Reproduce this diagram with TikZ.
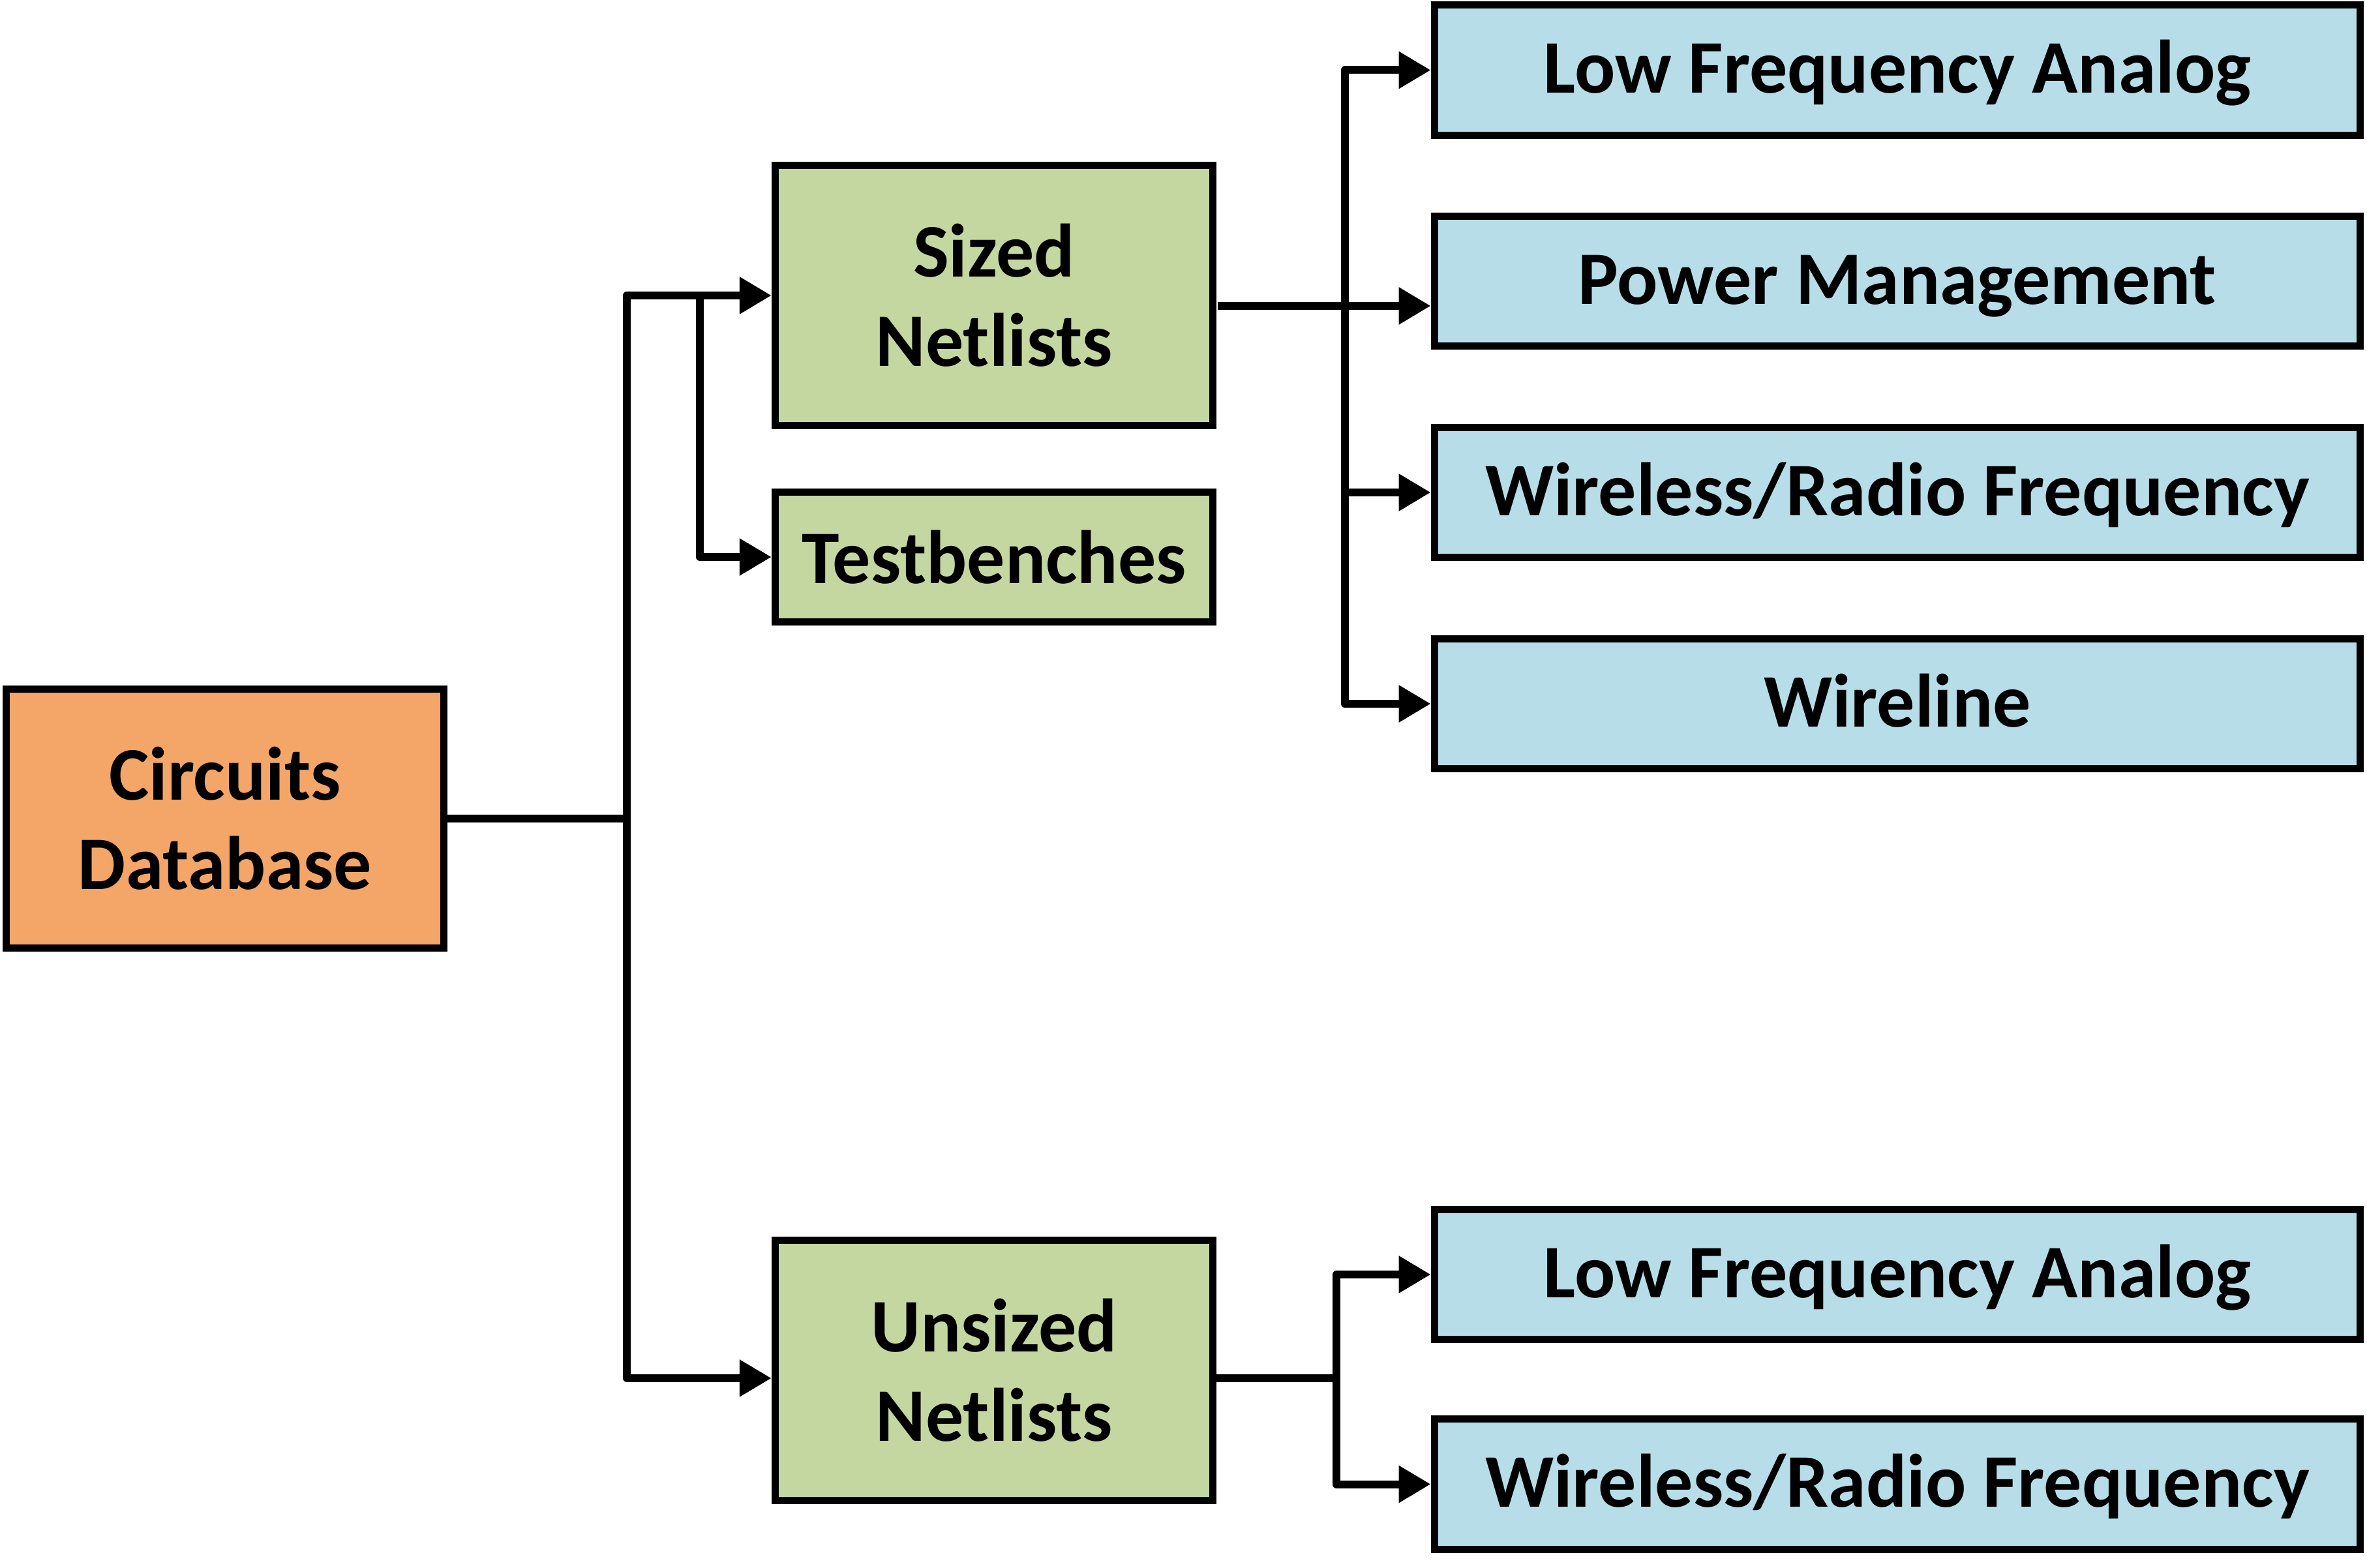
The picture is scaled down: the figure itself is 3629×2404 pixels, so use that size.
\documentclass[tikz,border=0pt]{standalone}
\usepackage{fontspec}
\setmainfont{Carlito}
\usepackage{tikz}
\usetikzlibrary{calc, arrows.meta}
\definecolor{myorange}{RGB}{243, 166, 104}
\definecolor{mygreen}{RGB}{196, 215, 160}
\definecolor{myblue}{RGB}{183, 222, 232}

\begin{document}
\begin{tikzpicture}[
    x = 0.01cm, y = -0.01cm,
    box/.style = {draw, line width = 0.11cm, inner sep = 0pt, align = center, font = \fontsize{33}{39}\selectfont\bfseries},
    srcbox/.style = {box, fill = myorange, minimum width = 6.7cm, minimum height = 3.97cm},
    setbox/.style = {box, fill = mygreen, minimum width = 6.71cm},
    catbox/.style = {box, fill = myblue, minimum width = 14.19cm, minimum height = 1.99cm, text height = 0.8cm, text depth = 0.1cm},
    con/.style = {line width = 0.12cm, line join = round},
    arr/.style = {con, -{Triangle[length = 0.49cm, width = 0.54cm]}}
]
\useasboundingbox (0,0) rectangle (3629,2404);

\node[srcbox] (circ) at (345, 1255) {Circuits\\Database};
\node[setbox, minimum height = 3.99cm] (sized) at (1524, 453) {Sized\\Netlists};
\node[setbox, minimum height = 1.99cm] (test) at (1524, 854) {Testbenches};
\node[setbox, minimum height = 3.99cm] (unsized) at (1524, 2101) {Unsized\\Netlists};

\node[catbox] (lfa1) at (2909, 107.5) {Low Frequency Analog};
\node[catbox] (pm) at (2909, 431) {Power Management};
\node[catbox] (wrf1) at (2909, 755) {Wireless/Radio Frequency};
\node[catbox] (wire) at (2909, 1079) {Wireline};
\node[catbox] (lfa2) at (2909, 1954) {Low Frequency Analog};
\node[catbox] (wrf2) at (2909, 2275.5) {Wireless/Radio Frequency};

% circuits database to netlists
\coordinate (trunk) at (961, 1255);
\coordinate (tb) at (1073, 453);
\draw[con] (circ.east) -- (trunk);
\draw[arr] (trunk) |- (sized.west);
\draw[arr] (trunk) |- ($(unsized.west)+(0,12)$);
\draw[arr] (tb) |- (test.west);

% sized netlists
\coordinate (sout) at (1867, 469);
\coordinate (sbr) at (2062, 469);
\draw[arr] (sout) -- (sout -| pm.west);
\draw[arr] (sbr) |- (lfa1.west);
\draw[arr] (sbr) |- (wrf1.west);
\draw[arr] (sbr) |- (wire.west);

% unsized netlists
\coordinate (ubr) at (2049, 2113);
\draw[con] (unsized.east |- ubr) -- (ubr);
\draw[arr] (ubr) |- (lfa2.west);
\draw[arr] (ubr) |- (wrf2.west);
\end{tikzpicture}
\end{document}
